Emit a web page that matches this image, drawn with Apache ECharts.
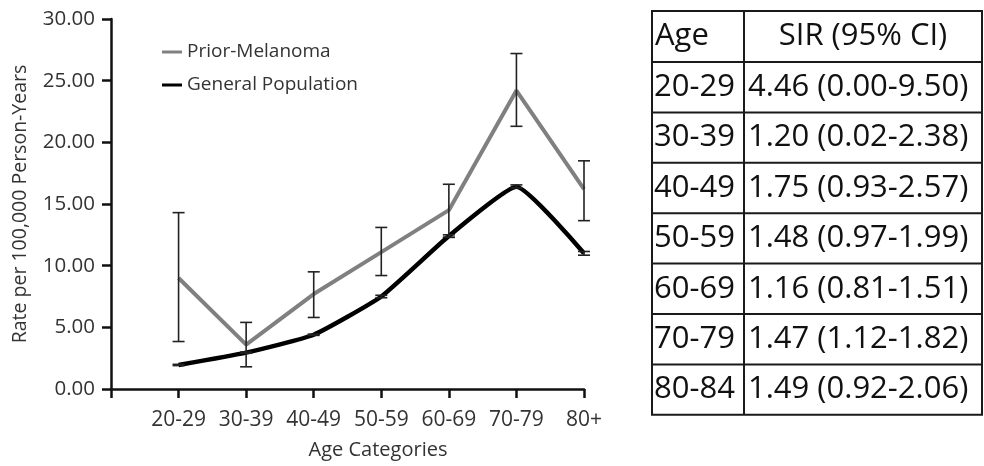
<!DOCTYPE html>
<html>
<head>
<meta charset="utf-8">
<script src="https://cdn.jsdelivr.net/npm/echarts@6/dist/echarts.min.js"></script>
<style>
  html, body { margin: 0; padding: 0; background: #fff; }
  #chart { width: 984px; height: 466px; }
</style>
</head>
<body>
<div id="chart"></div>
<script>
// chart data
const ageCats = ["20-29", "30-39", "40-49", "50-59", "60-69", "70-79", "80+"];
const priorRate = [9.0, 3.6, 7.7, 11.1, 14.5, 24.2, 16.2];
const priorLow = [3.85, 1.8, 5.8, 9.2, 12.3, 21.3, 13.65];
const priorHigh = [14.3, 5.4, 9.5, 13.1, 16.6, 27.2, 18.5];
const genRate = [1.95, 2.95, 4.4, 7.5, 12.4, 16.4, 11.0];
const genLow = [1.9, 2.9, 4.35, 7.4, 12.3, 16.3, 10.85];
const genHigh = [2.0, 3.0, 4.45, 7.6, 12.5, 16.55, 11.15];
const yTicks = [0, 5, 10, 15, 20, 25, 30];

// table data
const tableAges = ["20-29", "30-39", "40-49", "50-59", "60-69", "70-79", "80-84"];
const sir = [4.46, 1.20, 1.75, 1.48, 1.16, 1.47, 1.49];
const ciLow = [0.00, 0.02, 0.93, 0.97, 0.81, 1.12, 0.92];
const ciHigh = [9.50, 2.38, 2.57, 1.99, 1.51, 1.82, 2.06];

const FONT = "Open Sans";
let chart = echarts.init(document.getElementById("chart"));

function pts(vals) {
  return vals.map((v, i) => [i + 1, v]);
}
function bars(lo, hi) {
  return lo.map((v, i) => [i + 1, v, hi[i]]);
}
function errorItem(params, api) {
  let x = api.value(0);
  let a = api.coord([x, api.value(1)]);
  let b = api.coord([x, api.value(2)]);
  let w = 6;
  let st = { stroke: "#222", lineWidth: 1.6 };
  return {
    type: "group",
    children: [
      { type: "line", shape: { x1: a[0], y1: a[1], x2: b[0], y2: b[1] }, style: st },
      { type: "line", shape: { x1: a[0] - w, y1: a[1], x2: a[0] + w, y2: a[1] }, style: st },
      { type: "line", shape: { x1: b[0] - w, y1: b[1], x2: b[0] + w, y2: b[1] }, style: st },
    ],
  };
}

// table built as graphic elements
let tbl = [];
let tLeft = 652, tMid = 744, tRight = 982, tTop = 11, headH = 51, rowH = 50.4;
let tBottom = tTop + headH + rowH * tableAges.length;
let lineSt = { stroke: "#1a1a1a", lineWidth: 2 };
tbl.push({ type: "rect", shape: { x: tLeft, y: tTop, width: tRight - tLeft, height: tBottom - tTop }, style: { fill: null, stroke: "#1a1a1a", lineWidth: 2 } });
tbl.push({ type: "line", shape: { x1: tMid, y1: tTop, x2: tMid, y2: tBottom }, style: lineSt });
tbl.push({ type: "text", x: tLeft + 3, y: tTop + headH / 2, style: { text: "Age", font: "31px '" + FONT + "'", fill: "#111", verticalAlign: "middle" } });
tbl.push({ type: "text", x: (tMid + tRight) / 2, y: tTop + headH / 2, style: { text: "SIR (95% CI)", font: "31px '" + FONT + "'", fill: "#111", align: "center", verticalAlign: "middle" } });
tableAges.forEach((a, i) => {
  let y0 = tTop + headH + rowH * i;
  tbl.push({ type: "line", shape: { x1: tLeft, y1: y0, x2: tRight, y2: y0 }, style: lineSt });
  tbl.push({ type: "text", x: tLeft + 2, y: y0 + rowH / 2, style: { text: a, font: "31px '" + FONT + "'", fill: "#111", verticalAlign: "middle" } });
  tbl.push({ type: "text", x: tMid + 4, y: y0 + rowH / 2, style: { text: sir[i].toFixed(2) + " (" + ciLow[i].toFixed(2) + "-" + ciHigh[i].toFixed(2) + ")", font: "31px '" + FONT + "'", fill: "#111", verticalAlign: "middle" } });
});

let option = {
  animation: false,
  textStyle: { fontFamily: FONT },
  grid: { left: 111, right: 400, top: 19, bottom: 77 },
  legend: {
    data: ["Prior-Melanoma", "General Population"],
    orient: "vertical",
    left: 157,
    top: 37,
    icon: "rect",
    itemWidth: 20,
    itemHeight: 3,
    itemGap: 13,
    textStyle: { fontSize: 19, lineHeight: 20, color: "#333", fontFamily: FONT },
  },
  xAxis: {
    type: "value",
    min: 0,
    max: ageCats.length,
    interval: 1,
    splitLine: { show: false },
    axisLine: { lineStyle: { color: "#111", width: 2.5 } },
    axisTick: { lineStyle: { color: "#111", width: 2.5 }, length: 9 },
    axisLabel: {
      color: "#333",
      fontSize: 21,
      margin: 21,
      formatter: (v) => ageCats[v - 1] || "",
    },
  },
  yAxis: {
    type: "value",
    min: yTicks[0],
    max: yTicks[yTicks.length - 1],
    interval: 5,
    name: "Rate per 100,000 Person-Years",
    nameLocation: "middle",
    nameGap: 81,
    nameTextStyle: { fontSize: 19.5, color: "#333" },
    splitLine: { show: false },
    axisLine: { show: true, lineStyle: { color: "#111", width: 2.5 } },
    axisTick: { show: true, lineStyle: { color: "#111", width: 2.5 }, length: 9 },
    axisLabel: { color: "#333", fontSize: 20.5, margin: 16, formatter: (v) => v.toFixed(2) },
  },
  graphic: [
    { type: "text", x: 378, y: 450, style: { text: "Age Categories", font: "20px '" + FONT + "'", fill: "#333", align: "center", verticalAlign: "middle" } },
  ].concat(tbl),
  series: [
    {
      name: "General Population",
      type: "line",
      data: pts(genRate),
      smooth: 0.15,
      symbol: "none",
      itemStyle: { color: "#000" },
      lineStyle: { color: "#000", width: 4.5 },
      z: 2,
    },
    {
      name: "Prior-Melanoma",
      type: "line",
      data: pts(priorRate),
      symbol: "none",
      itemStyle: { color: "#808080" },
      lineStyle: { color: "#808080", width: 4 },
      z: 3,
    },
    { type: "custom", renderItem: errorItem, data: bars(genLow, genHigh), z: 4 },
    { type: "custom", renderItem: errorItem, data: bars(priorLow, priorHigh), z: 4 },
  ],
};
chart.setOption(option);
</script>
</body>
</html>
